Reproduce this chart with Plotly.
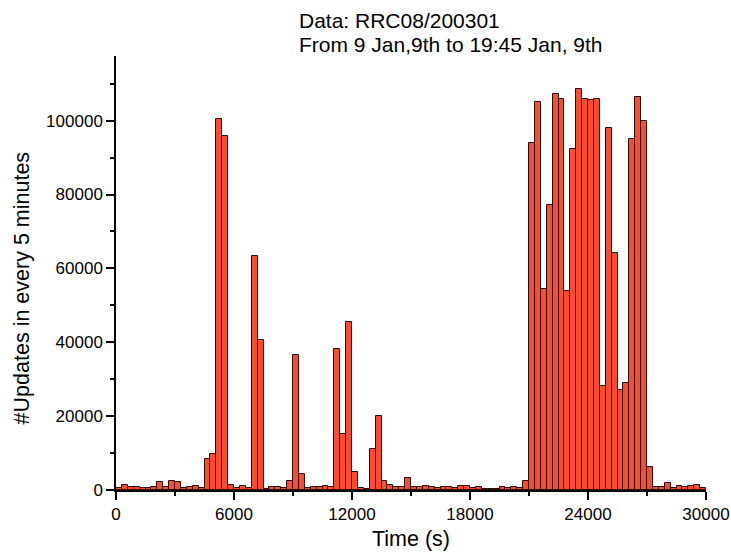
import plotly.graph_objects as go

# 5-minute bins (seconds from start)
bin_start = list(range(0, 30000, 300))
bin_width = 300

updates = [
    450, 1260, 900, 900, 450, 450, 900, 2250, 800, 2400,
    2100, 540, 900, 1000, 630, 8480, 9840, 100460, 95780, 1350,
    450, 950, 630, 63280, 40700, 400, 900, 680, 450, 2420,
    36560, 4200, 450, 760, 760, 1000, 760, 38270, 15200, 45400,
    5000, 450, 400, 11050, 20000, 2350, 1400, 760, 760, 3300,
    900, 720, 1080, 900, 450, 720, 720, 450, 1080, 1080,
    450, 720, 360, 360, 360, 720, 450, 800, 450, 2440,
    93960, 105150, 54340, 77260, 107230, 105880, 53890, 92430, 108580, 105970,
    105520, 105790, 28160, 98110, 64090, 27000, 28880, 94950, 106330, 100000,
    6230, 900, 900, 1900, 540, 1000, 800, 1000, 1260, 450,
]

x_ticks = [0, 6000, 12000, 18000, 24000, 30000]
y_ticks = [0, 20000, 40000, 60000, 80000, 100000]
title_lines = ["Data: RRC08/200301", "From 9 Jan,9th to 19:45 Jan, 9th"]
x_title = "Time (s)"
y_title = "#Updates in every 5 minutes"

FONT = "Liberation Sans, Arial, sans-serif"

fig = go.Figure(
    go.Bar(
        x=bin_start,
        y=updates,
        width=bin_width,
        offset=0,
        marker=dict(color="rgb(250,76,46)", line=dict(color="rgb(40,12,6)", width=1)),
    )
)

fig.update_layout(
    width=731,
    height=555,
    margin=dict(l=116, r=25, t=56, b=65, autoexpand=False),
    paper_bgcolor="white",
    plot_bgcolor="white",
    showlegend=False,
    bargap=0,
    font=dict(family=FONT, size=17, color="black"),
    annotations=[
        dict(text=title_lines[0], xref="paper", yref="paper", x=0.307, y=1.081,
             xanchor="left", yanchor="middle", showarrow=False,
             font=dict(family=FONT, size=21, color="black")),
        dict(text=title_lines[1], xref="paper", yref="paper", x=0.307, y=1.026,
             xanchor="left", yanchor="middle", showarrow=False,
             font=dict(family=FONT, size=21, color="black")),
        dict(text=y_title, xref="paper", yref="paper", x=-0.159, y=0.465,
             xanchor="center", yanchor="middle", textangle=-90, showarrow=False,
             font=dict(family=FONT, size=21.5, color="black")),
    ],
)

fig.update_xaxes(
    range=[0, 30000],
    automargin=False,
    tickvals=x_ticks,
    ticktext=[str(v) for v in x_ticks],
    ticks="outside",
    ticklen=8,
    tickwidth=1.5,
    tickcolor="black",
    showline=True,
    linecolor="black",
    linewidth=1.5,
    showgrid=False,
    zeroline=False,
    minor=dict(tickvals=[3000, 9000, 15000, 21000, 27000], ticks="outside", ticklen=4,
               tickwidth=1.5, tickcolor="black", showgrid=False),
    tickfont=dict(family=FONT, size=17),
    title=dict(text=x_title, font=dict(family=FONT, size=21.5), standoff=8),
)

fig.update_yaxes(
    range=[0, 117500],
    automargin=False,
    tickvals=y_ticks,
    ticktext=[str(v) for v in y_ticks],
    ticks="outside",
    ticklen=8,
    tickwidth=1.5,
    tickcolor="black",
    showline=True,
    linecolor="black",
    linewidth=1.5,
    showgrid=False,
    zeroline=False,
    minor=dict(tickvals=[10000, 30000, 50000, 70000, 90000, 110000], ticks="outside",
               ticklen=4, tickwidth=1.5, tickcolor="black", showgrid=False),
    tickfont=dict(family=FONT, size=17),
)

fig.write_html("out.html")
